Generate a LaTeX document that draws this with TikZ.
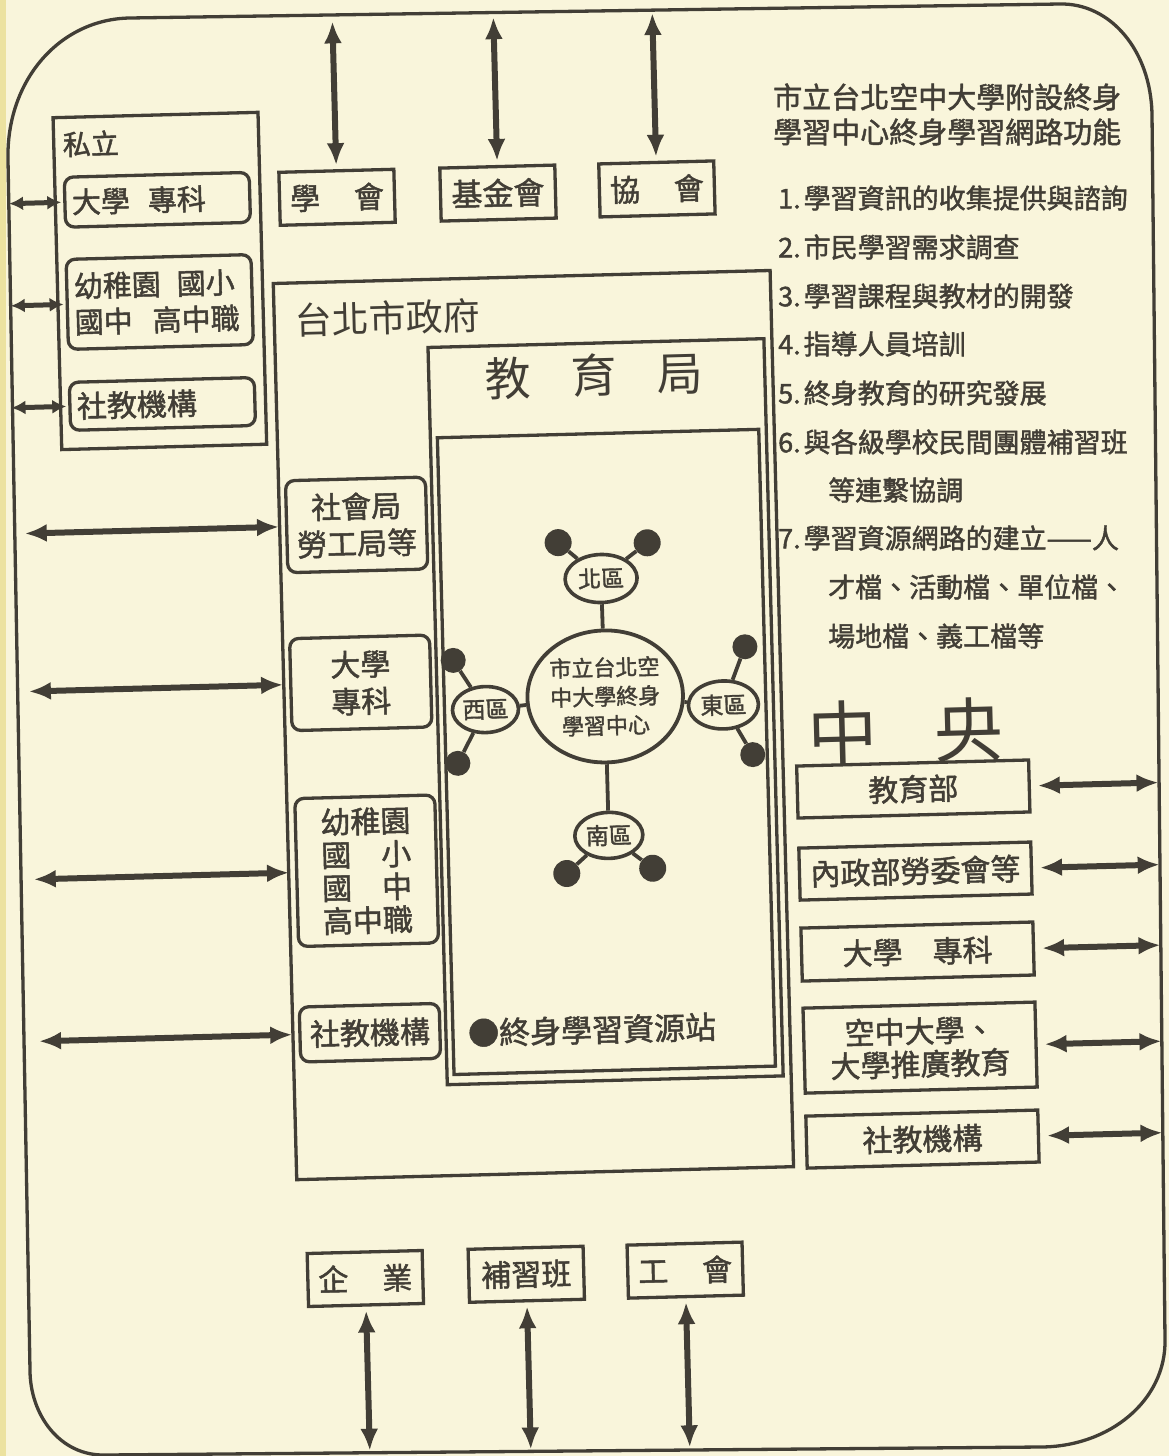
\documentclass[tikz,border=0pt]{standalone}
\usepackage{fontspec}
\setmainfont{Noto Sans CJK TC}[FakeBold=1.6]
\newfontfamily\plainfont{Noto Sans CJK TC}
\usetikzlibrary{arrows.meta,shapes.geometric}
\definecolor{paper}{RGB}{249,245,219}
\definecolor{ink}{RGB}{66,62,54}
\definecolor{pageedge}{RGB}{236,226,160}
\begin{document}
\begin{tikzpicture}[x=1pt,y=-1pt,
  fnt/.style 2 args={font=\fontsize{#1pt}{#2pt}\selectfont},
  pfnt/.style 2 args={font=\plainfont\fontsize{#1pt}{#2pt}\selectfont},
  box/.style={draw=ink, line width=3.3pt, text=ink, align=center, inner sep=0pt},
  rbox/.style={box, rounded corners=9pt},
  lbox/.style={rbox, align=left, inner xsep=7pt, inner ysep=0pt},
  txt/.style={text=ink, inner sep=0pt},
  dist/.style={ellipse, draw=ink, line width=3.6pt, text=ink, inner sep=0pt, fnt={23}{27}},
  dot/.style={circle, fill=ink, inner sep=0pt, minimum size=27pt},
  link/.style={draw=ink, line width=3.8pt},
  arrL/.style={draw=ink, line width=6pt, arrows={Latex[length=22pt,width=18pt]-Latex[length=22pt,width=18pt]}},
  arrS/.style={draw=ink, line width=5pt, arrows={Latex[length=14pt,width=14pt]-Latex[length=14pt,width=14pt]}},
  frame/.style={draw=ink, line width=3.3pt}
]
\useasboundingbox (0,0) rectangle (1169,1456);
\fill[paper] (0,0) rectangle (1169,1456);
\fill[pageedge] (0,0) rectangle (6,1456);
\draw[frame] (8,160) .. controls (6,80) and (60,19) .. (130,18) -- (1060,4)
  .. controls (1110,3) and (1151,50) .. (1152,115) -- (1165,1340)
  .. controls (1166,1400) and (1110,1447) .. (1040,1447) -- (105,1455)
  .. controls (60,1456) and (30,1415) .. (30,1370) -- cycle;

% functions list (unrotated)
\node[txt, anchor=west, fnt={29}{34}] (ti1) at (773,97) {市立台北空中大學附設終身};
\node[txt, anchor=west, fnt={29}{34}] (ti2) at (773,132) {學習中心終身學習網路功能};
\node[txt, anchor=west, fnt={27}{32}] (l1) at (778,198) {1.\hspace{3pt}學習資訊的收集提供與諮詢};
\node[txt, anchor=west, fnt={27}{32}] (l2) at (778,247) {2.\hspace{3pt}市民學習需求調查};
\node[txt, anchor=west, fnt={27}{32}] (l3) at (778,296) {3.\hspace{3pt}學習課程與教材的開發};
\node[txt, anchor=west, fnt={27}{32}] (l4) at (778,344) {4.\hspace{3pt}指導人員培訓};
\node[txt, anchor=west, fnt={27}{32}] (l5) at (778,393) {5.\hspace{3pt}終身教育的研究發展};
\node[txt, anchor=west, fnt={27}{32}] (l6) at (778,442) {6.\hspace{3pt}與各級學校民間團體補習班};
\node[txt, anchor=west, fnt={27}{32}] (l6b) at (828,490) {等連繫協調};
\node[txt, anchor=west, fnt={27}{32}] (l7) at (778,538) {7.\hspace{3pt}學習資源網路的建立——人};
\node[txt, anchor=west, fnt={27}{32}] (l7b) at (828,587) {才檔、活動檔、單位檔、};
\node[txt, anchor=west, fnt={27}{32}] (l7c) at (828,636) {場地檔、義工檔等};

\begin{scope}[rotate around={1.5:(584,728)}, transform shape]
% private institutions
\node[box, minimum width=205pt, minimum height=332pt] (sili) at (171.7,270) {};
\node[txt, anchor=west, fnt={28}{32}] (silil) at (78,131) {私立};
\node[lbox, text width=171pt, minimum height=50pt, fnt={29}{35}] (p1) at (171.3,188.8) {大學\hspace{18pt}專科};
\node[lbox, text width=171pt, minimum height=90pt, fnt={29}{36}] (p2) at (171,291) {幼稚園\hspace{16pt}國小\\國中\hspace{20pt}高中職};
\node[lbox, text width=171pt, minimum height=48pt, fnt={30}{35}] (p3) at (171,393) {社教機構};
\coordinate (sa1) at (23,188.8);
\coordinate (sa2) at (22,291);
\coordinate (sa3) at (20,393);
\draw[arrS, shorten >=2pt] (sa1) -- (p1);
\draw[arrS, shorten >=2pt] (sa2) -- (p2);
\draw[arrS, shorten >=2pt] (sa3) -- (p3);

% top boxes
\node[box, minimum width=115pt, minimum height=53pt, fnt={30}{36}] (xh) at (351,191) {學\hspace{34pt}會};
\node[box, minimum width=115pt, minimum height=53pt, fnt={31}{36}] (jjh) at (512,191) {基金會};
\node[box, minimum width=115pt, minimum height=53pt, fnt={30}{36}] (xie) at (671,191) {協\hspace{34pt}會};
\coordinate (ta1) at (351,15);
\coordinate (ta2) at (512,15);
\coordinate (ta3) at (671,15);
\draw[arrL, shorten >=4pt] (ta1) -- (xh);
\draw[arrL, shorten >=4pt] (ta2) -- (jjh);
\draw[arrL, shorten >=4pt] (ta3) -- (xie);

% bottom boxes
\node[box, minimum width=115pt, minimum height=53pt, fnt={30}{36}] (qy) at (351,1272.6) {企\hspace{34pt}業};
\node[box, minimum width=115pt, minimum height=53pt, fnt={30}{36}] (bxb) at (512,1272.6) {補習班};
\node[box, minimum width=115pt, minimum height=53pt, fnt={30}{36}] (gh) at (671,1272.6) {工\hspace{34pt}會};
\coordinate (ba1) at (351,1445);
\coordinate (ba2) at (512,1448);
\coordinate (ba3) at (671,1450);
\draw[arrL, shorten <=4pt] (qy) -- (ba1);
\draw[arrL, shorten <=4pt] (bxb) -- (ba2);
\draw[arrL, shorten <=4pt] (gh) -- (ba3);

% Taipei city government
\node[box, minimum width=497pt, minimum height=896.5pt] (govt) at (533.5,723.75) {};
\node[txt, anchor=west, pfnt={37}{40}] (govtl) at (306,313) {台北市政府};
\node[box, minimum width=336pt, minimum height=737.5pt] (edu) at (606,712.25) {};
\node[txt, pfnt={46}{50}] (edul) at (603,376) {教\hspace{40pt}育\hspace{40pt}局};
\node[box, minimum width=321.5pt, minimum height=637pt] (inner) at (605.75,752.5) {};

% left column inside government
\node[rbox, minimum width=140pt, minimum height=92pt, fnt={30}{37}] (c1) at (362,519) {社會局\\勞工局等};
\node[rbox, minimum width=140pt, minimum height=92pt, fnt={30}{37}] (c2) at (362,677) {大學\\專科};
\node[rbox, minimum width=140pt, minimum height=148pt, fnt={30}{33}] (c3) at (363,865) {幼稚園\\國\hspace{30pt}小\\國\hspace{30pt}中\\高中職};
\node[rbox, minimum width=140pt, minimum height=55pt, fnt={30}{35}] (c4) at (362,1027) {社教機構};
\coordinate (la1) at (30,519);
\coordinate (la2) at (30,677);
\coordinate (la3) at (30,865);
\coordinate (la4) at (31,1027);
\draw[arrL, shorten >=6pt] (la1) -- (c1);
\draw[arrL, shorten >=6pt] (la2) -- (c2);
\draw[arrL, shorten >=6pt] (la3) -- (c3);
\draw[arrL, shorten >=6pt] (la4) -- (c4);

% network
\node[ellipse, draw=ink, line width=3.8pt, minimum width=140pt, minimum height=132pt, inner sep=0pt, text=ink, align=center, fnt={22}{29}] (hub) at (606,697) {市立台北空\\中大學終身\\學習中心};
\node[dist, minimum width=72pt, minimum height=48pt] (bei) at (605,579) {北區};
\node[dist, minimum width=66pt, minimum height=46pt] (xi) at (486,707) {西區};
\node[dist, minimum width=70pt, minimum height=48pt] (dong) at (724,708.6) {東區};
\node[dist, minimum width=68pt, minimum height=46pt] (nan) at (606,836) {南區};
\node[dot] (b1) at (563,542) {};
\node[dot] (b2) at (652,544.5) {};
\node[dot, minimum size=25pt] (x1) at (455,657) {};
\node[dot, minimum size=25pt] (x2) at (457,760) {};
\node[dot, minimum size=25pt] (d1) at (747,651) {};
\node[dot, minimum size=25pt] (d2) at (752,759) {};
\node[dot] (n1) at (563,873) {};
\node[dot] (n2) at (649,870) {};
\draw[link] (hub) -- (bei);
\draw[link] (hub) -- (xi);
\draw[link] (hub) -- (dong);
\draw[link] (hub) -- (nan);
\draw[link] (bei) -- (b1);
\draw[link] (bei) -- (b2);
\draw[link] (xi) -- (x1);
\draw[link] (xi) -- (x2);
\draw[link] (dong) -- (d1);
\draw[link] (dong) -- (d2);
\draw[link] (nan) -- (n1);
\draw[link] (nan) -- (n2);
\node[txt, anchor=west, fnt={31}{35}] (zy) at (460,1030) {●終身學習資源站};

% central government
\node[txt, pfnt={70}{74}] (zy2) at (906,740) {中\hspace{56pt}央};
\node[box, minimum width=232pt, minimum height=52pt, fnt={30}{36}] (r1) at (911.6,797.6) {教育部};
\node[box, minimum width=232pt, minimum height=52pt, fnt={30}{36}] (r2) at (911.6,879.7) {內政部勞委會等};
\node[box, minimum width=232pt, minimum height=53pt, fnt={30}{36}] (r3) at (911.6,960.2) {大學\hspace{30pt}專科};
\node[box, minimum width=232pt, minimum height=85pt, fnt={30}{33}] (r4) at (911.6,1056.3) {空中大學、\\大學推廣教育};
\node[box, minimum width=232pt, minimum height=52pt, fnt={30}{36}] (r5) at (911.6,1147.8) {社教機構};
\coordinate (ra1) at (1157,797.6);
\coordinate (ra2) at (1156,879.7);
\coordinate (ra3) at (1154.7,960.2);
\coordinate (ra4) at (1153.2,1056.3);
\coordinate (ra5) at (1151.8,1147.8);
\draw[arrL, shorten <=7pt] (r1) -- (ra1);
\draw[arrL, shorten <=7pt] (r2) -- (ra2);
\draw[arrL, shorten <=7pt] (r3) -- (ra3);
\draw[arrL, shorten <=7pt] (r4) -- (ra4);
\draw[arrL, shorten <=7pt] (r5) -- (ra5);
\end{scope}
\end{tikzpicture}
\end{document}
